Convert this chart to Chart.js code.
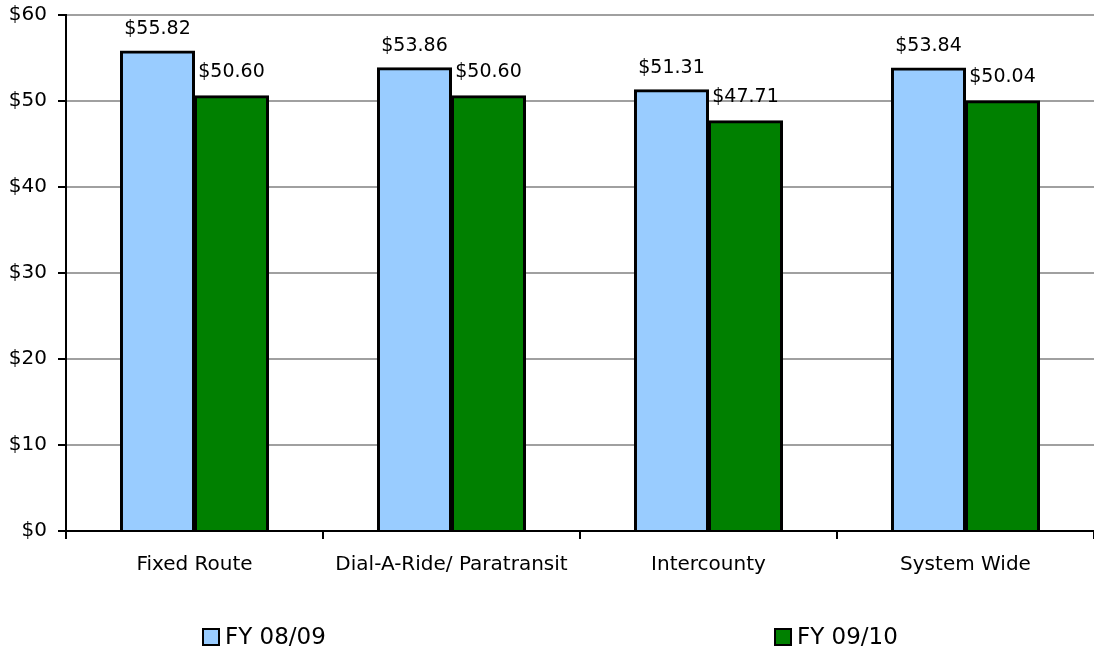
<!DOCTYPE html>
<html>
<head>
<meta charset="utf-8">
<script src="https://cdn.jsdelivr.net/npm/chart.js@4"></script>
<style>
  html, body { margin: 0; padding: 0; background: #fff; }
  #wrap { width: 1094px; height: 655px; position: relative; }
</style>
</head>
<body>
<div id="wrap"><canvas id="c"></canvas></div>
<script>
const categories = ['Fixed Route', 'Dial-A-Ride/ Paratransit', 'Intercounty', 'System Wide'];
const fy0809 = [55.82, 53.86, 51.31, 53.84];
const fy0910 = [50.60, 50.60, 47.71, 50.04];
const seriesNames = ['FY 08/09', 'FY 09/10'];
const yTicks = [0, 10, 20, 30, 40, 50, 60];

const FONT = '"DejaVu Sans", sans-serif';
const money = v => '$' + v.toFixed(2);

// Value labels above each bar
const barLabels = {
  id: 'barLabels',
  afterDatasetsDraw(chart, args, opts) {
    const ctx = chart.ctx;
    ctx.save();
    ctx.font = '19px ' + FONT;
    ctx.fillStyle = '#000';
    ctx.textAlign = 'center';
    ctx.textBaseline = 'middle';
    chart.data.datasets.forEach((ds, i) => {
      const meta = chart.getDatasetMeta(i);
      const lift = opts.lift[i];
      meta.data.forEach((bar, j) => {
        ctx.fillText(money(ds.data[j]), bar.x, bar.y - lift);
      });
    });
    ctx.restore();
  }
};

// Two-item legend spread across the bottom
const spreadLegend = {
  id: 'spreadLegend',
  afterDraw(chart, args, opts) {
    const ctx = chart.ctx;
    ctx.save();
    ctx.font = '23px ' + FONT;
    ctx.textBaseline = 'middle';
    ctx.textAlign = 'left';
    chart.data.datasets.forEach((ds, i) => {
      const x = opts.xs[i], y = opts.y, s = 16;
      ctx.fillStyle = ds.backgroundColor;
      ctx.fillRect(x, y - s / 2, s, s);
      ctx.lineWidth = 2;
      ctx.strokeStyle = '#000';
      ctx.strokeRect(x, y - s / 2, s, s);
      ctx.fillStyle = '#000';
      ctx.fillText(ds.label, x + s + 6, y + 1);
    });
    ctx.restore();
  }
};

new Chart(document.getElementById('c'), {
  type: 'bar',
  data: {
    labels: categories,
    datasets: [
      { label: seriesNames[0], data: fy0809, backgroundColor: '#99CCFF', borderColor: '#000', borderWidth: 3, inflateAmount: 0.5 },
      { label: seriesNames[1], data: fy0910, backgroundColor: '#008000', borderColor: '#000', borderWidth: 3, inflateAmount: 0.5 }
    ]
  },
  options: {
    responsive: true,
    maintainAspectRatio: false,
    animation: false,
    layout: { padding: { top: 15, right: 0, bottom: 0, left: 0 } },
    datasets: { bar: { categoryPercentage: 0.576, barPercentage: 1 } },
    plugins: {
      legend: { display: false },
      tooltip: { enabled: false },
      barLabels: { lift: [22, 24] },
      spreadLegend: { xs: [203, 775], y: 637 }
    },
    scales: {
      x: {
        afterFit(scale) { scale.height = 124; scale.paddingLeft = 0; scale.paddingRight = 0; },
        grid: { display: true, offset: true, drawOnChartArea: false, drawTicks: true, tickLength: 8, color: '#000', lineWidth: 2 },
        border: { display: true, color: '#000', width: 2 },
        ticks: { color: '#000', font: { family: FONT, size: 20 }, padding: 14, maxRotation: 0, autoSkip: false }
      },
      y: {
        min: 0, max: 60,
        afterFit(scale) { scale.width = 66; scale.paddingTop = 0; scale.paddingBottom = 0; },
        afterBuildTicks(scale) { scale.ticks = yTicks.map(v => ({ value: v })); },
        grid: { color: '#A0A0A0', lineWidth: 2, drawTicks: true, tickLength: 8, tickColor: '#000', tickWidth: 2 },
        border: { display: true, color: '#000', width: 2 },
        ticks: { color: '#000', font: { family: FONT, size: 20 }, padding: 11, callback: v => '$' + v }
      }
    }
  },
  plugins: [barLabels, spreadLegend]
});
</script>
</body>
</html>
